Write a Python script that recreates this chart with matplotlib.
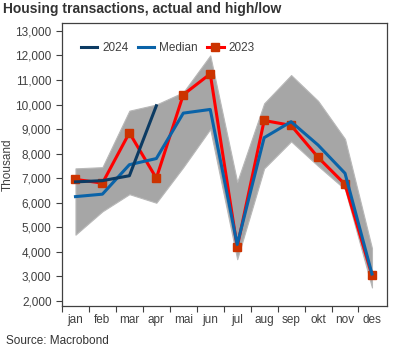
import numpy as np
import matplotlib
matplotlib.use('Agg')
import matplotlib.pyplot as plt

plt.rcParams['font.family'] = ['Liberation Sans', 'DejaVu Sans']

# Data
months = ['jan', 'feb', 'mar', 'apr', 'mai', 'jun', 'jul', 'aug', 'sep', 'okt', 'nov', 'des']
high = [7400, 7450, 9750, 10000, 10500, 12000, 6850, 10050, 11200, 10150, 8600, 4150]
low = [4700, 5650, 6350, 6000, 7450, 9000, 3700, 7400, 8500, 7500, 6550, 2550]
median = [6250, 6350, 7550, 7800, 9650, 9800, 4300, 8650, 9300, 8350, 7200, 3100]
y2023 = [6950, 6800, 8850, 7000, 10400, 11250, 4200, 9350, 9150, 7850, 6750, 3050]
y2024 = [6850, 6900, 7100, 9950]

x = np.arange(len(months)) + 0.5

fig = plt.figure(figsize=(4, 3.5), dpi=100)
ax = fig.add_axes([0.155, 0.126, 0.812, 0.809])

# high/low band
ax.fill_between(x, low, high, color='#a6a6a6', linewidth=0.8, edgecolor='#b8b8b8', zorder=1)

ax.plot(x[:len(y2024)], y2024, color='#0c3b63', linewidth=2.2, label='2024', zorder=4)
ax.plot(x, median, color='#0a63a8', linewidth=2.2, label='Median', zorder=3)
ax.plot(x, y2023, color='#ff0000', linewidth=2.2, marker='s', markersize=6,
        markerfacecolor='#cc3300', markeredgecolor='#cc3300', label='2023', zorder=2)

ax.set_xlim(0, 12.05)
ax.set_ylim(1800, 13330)
ax.set_yticks(range(2000, 14000, 1000))
ax.set_yticklabels([f'{v:,}' for v in range(2000, 14000, 1000)])
ax.set_xticks(np.arange(12))
ax.set_xticklabels([])
ax.set_xticks(x, minor=True)
ax.set_xticklabels(months, minor=True)
ax.tick_params(axis='x', which='minor', length=0, pad=6)
ax.tick_params(axis='both', which='major', length=4, color='#404040', labelsize=8.5,
               labelcolor='#404040')
ax.tick_params(axis='x', which='minor', labelsize=8.5, labelcolor='#404040')
for s in ax.spines.values():
    s.set_color('#404040')
    s.set_linewidth(0.9)

ax.set_ylabel('Thousand', fontsize=8.5, color='#404040')
ax.yaxis.set_label_coords(-0.148, 0.5)

ax.legend(loc='upper left', bbox_to_anchor=(0.025, 0.97), ncol=3, frameon=False,
          fontsize=8.5, handlelength=1.4, handletextpad=0.4, columnspacing=0.8,
          labelcolor='#404040')

fig.text(0.008, 0.962, 'Housing transactions, actual and high/low', fontsize=10,
         fontweight='bold', color='#333333')
fig.text(0.015, 0.018, 'Source: Macrobond', fontsize=8.5, color='#333333')

fig.savefig('out.png', dpi=100)
